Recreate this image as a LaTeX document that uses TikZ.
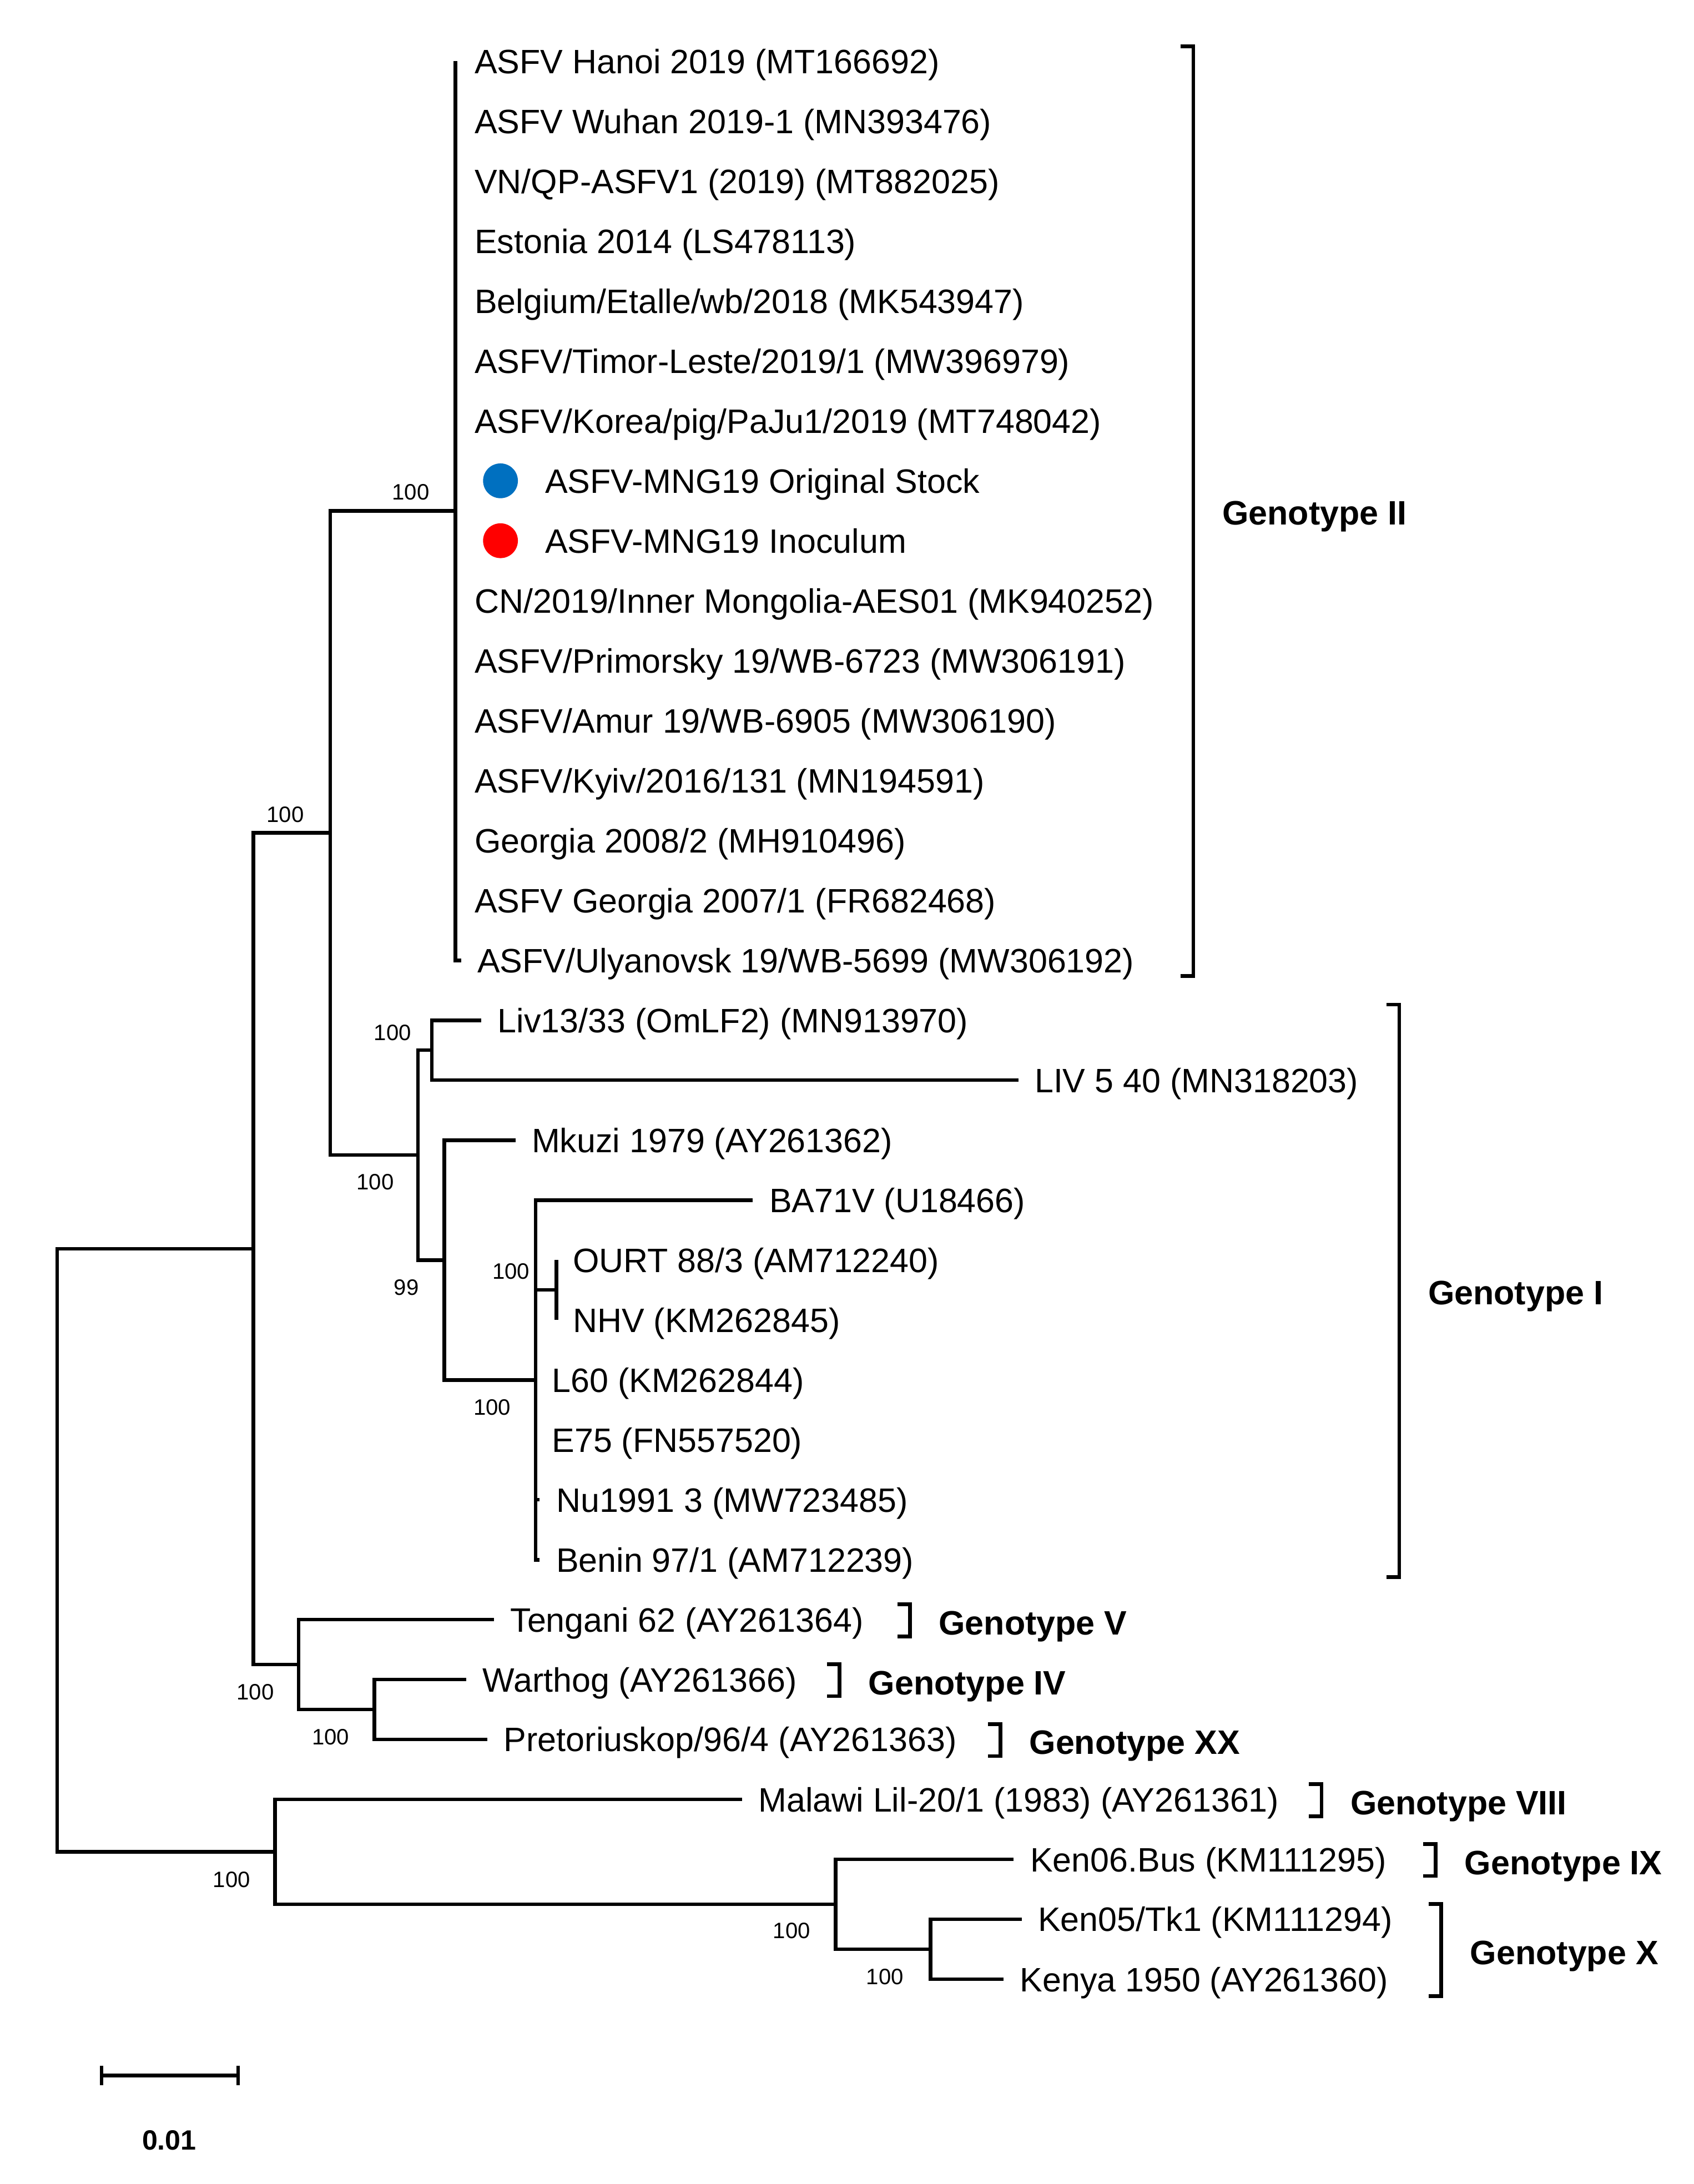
\documentclass[tikz,border=0pt]{standalone}
\usepackage{fontspec}
\setmainfont{Liberation Sans}
\usetikzlibrary{positioning,calc}
\definecolor{StockBlue}{RGB}{0,112,192}
\definecolor{InocRed}{RGB}{255,0,0}

\begin{document}
\begin{tikzpicture}[x=1pt, y=-1pt, line width=2.6pt,
    leaf/.style={anchor=west, inner xsep=10.5pt, inner ysep=0pt, text height=17.5pt,
                 text depth=0pt, font=\fontsize{24.3}{29}\selectfont},
    leafII/.style={leaf, inner xsep=12.5pt},
    boot/.style={anchor=east, inner sep=0pt, text height=11.5pt, text depth=0pt,
                 font=\fontsize{16}{19}\selectfont},
    geno/.style={anchor=west, inner sep=0pt, text height=17.5pt, text depth=0pt,
                 font=\fontsize{24.3}{29}\selectfont\bfseries},
    dot/.style={circle, inner sep=0pt, minimum size=25pt}]
  \useasboundingbox (0,0) rectangle (1216,1568);

  % internal nodes of the tree
  \coordinate (root) at (41,1113);
  \coordinate (nA) at (182,896.5);
  \coordinate (nB) at (237,598);
  \coordinate (nII) at (327,366.75);
  \coordinate (nI) at (300,829.3);
  \coordinate (nLiv) at (310,754);
  \coordinate (nMk) at (319,904.65);
  \coordinate (nBA) at (384.5,990.7);
  \coordinate (nOU) at (399.5,926.1);
  \coordinate (nV) at (214.3,1195.05);
  \coordinate (nIV) at (268.8,1227.3);
  \coordinate (nM) at (197.5,1329.55);
  \coordinate (nK) at (600,1367.2);
  \coordinate (nX) at (668,1399.45);

  % genotype II
  \node[leafII] (hanoi) at (327,44) {ASFV Hanoi 2019 (MT166692)};
  \node[leafII] (wuhan) at (327,87) {ASFV Wuhan 2019-1 (MN393476)};
  \node[leafII] (vnqp) at (327,130.1) {VN/QP-ASFV1 (2019) (MT882025)};
  \node[leafII] (estonia) at (327,173.1) {Estonia 2014 (LS478113)};
  \node[leafII] (belgium) at (327,216.1) {Belgium/Etalle/wb/2018 (MK543947)};
  \node[leafII] (timor) at (327,259.2) {ASFV/Timor-Leste/2019/1 (MW396979)};
  \node[leafII] (korea) at (327,302.2) {ASFV/Korea/pig/PaJu1/2019 (MT748042)};
  \coordinate (stubstock) at (327,345.2);
  \node[dot, fill=StockBlue, right=18.5pt of stubstock] (dotstock) {};
  \node[leaf, right=6.5pt of dotstock] (stock) {ASFV-MNG19 Original Stock};
  \coordinate (stubinoc) at (327,388.2);
  \node[dot, fill=InocRed, right=18.5pt of stubinoc] (dotinoc) {};
  \node[leaf, right=6.5pt of dotinoc] (inoc) {ASFV-MNG19 Inoculum};
  \node[leafII] (innermong) at (327,431.3) {CN/2019/Inner Mongolia-AES01 (MK940252)};
  \node[leafII] (primorsky) at (327,474.3) {ASFV/Primorsky 19/WB-6723 (MW306191)};
  \node[leafII] (amur) at (327,517.3) {ASFV/Amur 19/WB-6905 (MW306190)};
  \node[leafII] (kyiv) at (327,560.4) {ASFV/Kyiv/2016/131 (MN194591)};
  \node[leafII] (georgiaA) at (327,603.4) {Georgia 2008/2 (MH910496)};
  \node[leafII] (georgiaB) at (327,646.4) {ASFV Georgia 2007/1 (FR682468)};
  \node[leaf] (ulyanovsk) at (331,689.5) {ASFV/Ulyanovsk 19/WB-5699 (MW306192)};

  % genotype I
  \node[leaf] (livA) at (345.6,732.5) {Liv13/33 (OmLF2) (MN913970)};
  \node[leaf] (livB) at (731,775.5) {LIV 5 40 (MN318203)};
  \node[leaf] (mkuzi) at (370,818.6) {Mkuzi 1979 (AY261362)};
  \node[leaf] (ba71v) at (540.5,861.6) {BA71V (U18466)};
  \node[leaf] (ourt) at (399.5,904.6) {OURT 88/3 (AM712240)};
  \node[leaf] (nhv) at (399.5,947.6) {NHV (KM262845)};
  \node[leaf] (lsixty) at (384.5,990.7) {L60 (KM262844)};
  \node[leaf] (esf) at (384.5,1033.7) {E75 (FN557520)};
  \node[leaf] (nuA) at (387.5,1076.7) {Nu1991 3 (MW723485)};
  \node[leaf] (benin) at (387.5,1119.8) {Benin 97/1 (AM712239)};

  % other genotypes
  \node[leaf] (tengani) at (354.6,1162.8) {Tengani 62 (AY261364)};
  \node[leaf] (warthog) at (334.8,1205.8) {Warthog (AY261366)};
  \node[leaf] (pretoria) at (350,1248.8) {Pretoriuskop/96/4 (AY261363)};
  \node[leaf] (malawi) at (532.7,1291.9) {Malawi Lil-20/1 (1983) (AY261361)};
  \node[leaf] (kensix) at (727.8,1334.9) {Ken06.Bus (KM111295)};
  \node[leaf] (kenfive) at (733.4,1377.9) {Ken05/Tk1 (KM111294)};
  \node[leaf] (kenya) at (720.4,1421) {Kenya 1950 (AY261360)};

  % branches
  \draw (nII) |- (hanoi.west);
  \draw (nII) |- (wuhan.west);
  \draw (nII) |- (vnqp.west);
  \draw (nII) |- (estonia.west);
  \draw (nII) |- (belgium.west);
  \draw (nII) |- (timor.west);
  \draw (nII) |- (korea.west);
  \draw (nII) |- (stubstock);
  \draw (nII) |- (stubinoc);
  \draw (nII) |- (innermong.west);
  \draw (nII) |- (primorsky.west);
  \draw (nII) |- (amur.west);
  \draw (nII) |- (kyiv.west);
  \draw (nII) |- (georgiaA.west);
  \draw (nII) |- (georgiaB.west);
  \draw (nII) |- (ulyanovsk.west);
  \draw (nLiv) |- (livA.west);
  \draw (nLiv) |- (livB.west);
  \draw (nOU) |- (ourt.west);
  \draw (nOU) |- (nhv.west);
  \draw (nBA) |- (ba71v.west);
  \draw (nBA) |- (nOU);
  \draw (nBA) |- (lsixty.west);
  \draw (nBA) |- (esf.west);
  \draw (nBA) |- (nuA.west);
  \draw (nBA) |- (benin.west);
  \draw (nMk) |- (mkuzi.west);
  \draw (nMk) |- (nBA);
  \draw (nI) |- (nLiv);
  \draw (nI) |- (nMk);
  \draw (nB) |- (nII);
  \draw (nB) |- (nI);
  \draw (nIV) |- (warthog.west);
  \draw (nIV) |- (pretoria.west);
  \draw (nV) |- (tengani.west);
  \draw (nV) |- (nIV);
  \draw (nA) |- (nB);
  \draw (nA) |- (nV);
  \draw (nX) |- (kenfive.west);
  \draw (nX) |- (kenya.west);
  \draw (nK) |- (kensix.west);
  \draw (nK) |- (nX);
  \draw (nM) |- (malawi.west);
  \draw (nM) |- (nK);
  \draw (root) |- (nA);
  \draw (root) |- (nM);

  % bootstrap values
  \node[boot] (bII) at ($(nII)+(-17.5,-13.5)$) {100};
  \node[boot] (bB) at ($(nB)+(-17.5,-13.5)$) {100};
  \node[boot] (bLiv) at ($(nLiv)+(-13.5,-13)$) {100};
  \node[boot] (bI) at ($(nI)+(-16,19.2)$) {100};
  \node[boot] (bMk) at ($(nMk)+(-17,19.3)$) {99};
  \node[boot] (bOU) at ($(nOU)+(-18,-13.5)$) {100};
  \node[boot] (bBA) at ($(nBA)+(-16.5,19.3)$) {100};
  \node[boot] (bV) at ($(nV)+(-16.3,19.5)$) {100};
  \node[boot] (bIV) at ($(nIV)+(-16.8,19.7)$) {100};
  \node[boot] (bM) at ($(nM)+(-16.5,19.5)$) {100};
  \node[boot] (bK) at ($(nK)+(-17,18.8)$) {100};
  \node[boot] (bX) at ($(nX)+(-18,19.6)$) {100};

  % genotype brackets
  \draw (847.7,33.3) -- (856.7,33.3) -- (856.7,700.7) -- (847.7,700.7);
  \draw (995.5,721.3) -- (1004.5,721.3) -- (1004.5,1132.2) -- (995.5,1132.2);
  \draw (644.2,1151.8) -- (653.2,1151.8) -- (653.2,1174.8) -- (644.2,1174.8);
  \draw (593.7,1194.8) -- (602.7,1194.8) -- (602.7,1217.8) -- (593.7,1217.8);
  \draw (709.2,1237.8) -- (718.2,1237.8) -- (718.2,1260.8) -- (709.2,1260.8);
  \draw (939.7,1280.9) -- (948.7,1280.9) -- (948.7,1303.9) -- (939.7,1303.9);
  \draw (1021.7,1323.9) -- (1030.7,1323.9) -- (1030.7,1346.9) -- (1021.7,1346.9);
  \draw (1025.7,1366.9) -- (1034.7,1366.9) -- (1034.7,1433) -- (1025.7,1433);
  \node[geno] (gII) at (876.2,368) {Genotype II};
  \node[geno] (gI) at (1024,928) {Genotype I};
  \node[geno] (gV) at (672.7,1164.8) {Genotype V};
  \node[geno] (gIV) at (622.2,1207.8) {Genotype IV};
  \node[geno] (gXX) at (737.7,1250.8) {Genotype XX};
  \node[geno] (gVIII) at (968.2,1293.9) {Genotype VIII};
  \node[geno] (gIX) at (1050.2,1336.9) {Genotype IX};
  \node[geno] (gX) at (1054.2,1401.5) {Genotype X};

  % scale bar
  \coordinate (sbl) at (73,1490);
  \coordinate (sbr) at (171,1490);
  \draw (sbl) -- (sbr);
  \draw ($(sbl)+(0,-7)$) -- ($(sbl)+(0,7)$);
  \draw ($(sbr)+(0,-7)$) -- ($(sbr)+(0,7)$);
  \node[inner sep=0pt, font=\fontsize{20}{24}\selectfont\bfseries] (scalelbl)
    at (121.5,1536.5) {0.01};
\end{tikzpicture}
\end{document}
